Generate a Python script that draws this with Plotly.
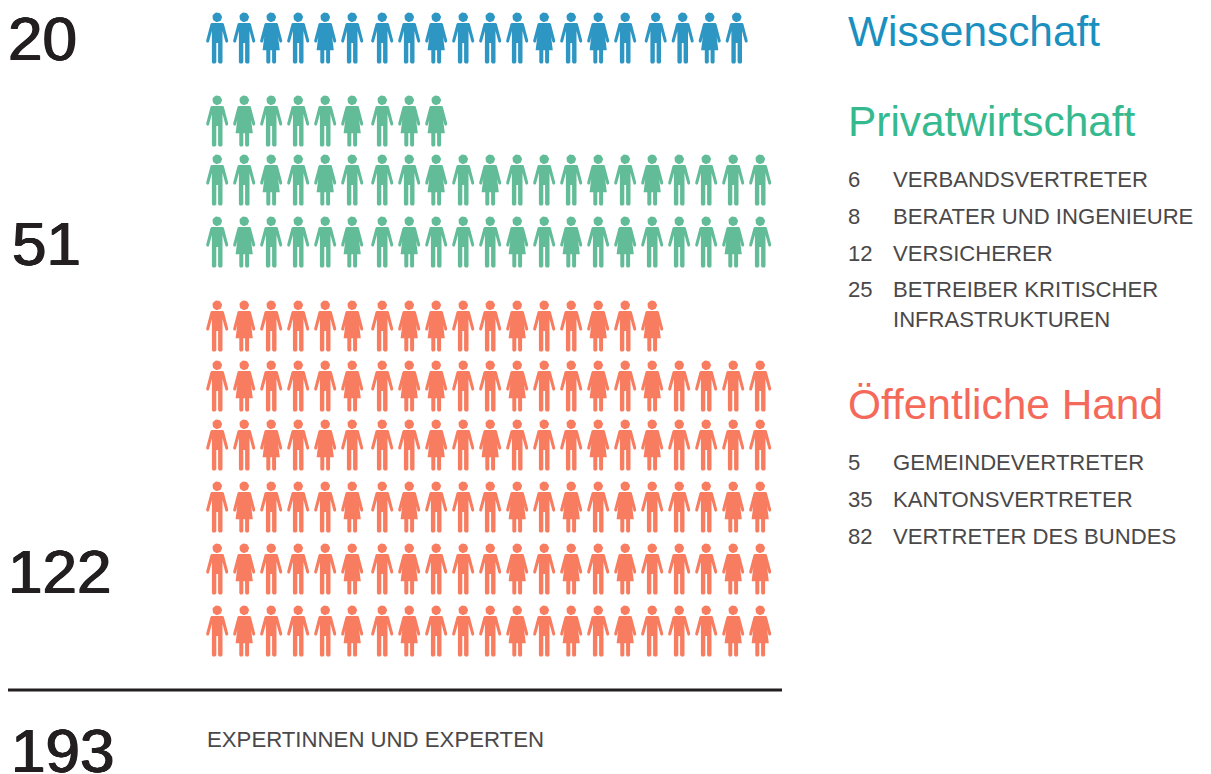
import math
import plotly.graph_objects as go

# --- data -------------------------------------------------------------
groups = ["Wissenschaft", "Privatwirtschaft", "Öffentliche Hand"]
totals = [20, 51, 122]
grand_total = 193
grand_label = "EXPERTINNEN UND EXPERTEN"

wissenschaft_rows = ["mmfmfmmmfmmmfmfmmmfm"]
privat_rows = [
    "mfmmmfmff",
    "mmfmfmmmfmfmmmfmfmmmm",
    "mfmmmfmfmmmfmfmfmmmfm",
]
oeffentlich_rows = [
    "mfmmmfmffmmfmmfmf",
    "mfmmmfmffmmfmmfmfmmmm",
    "mmfmfmmmfmfmmmfmfmmmm",
    "mfmmmfmfmmmfmfmfmmmff",
    "mfmmmfmfmmmfmfmfmmmff",
    "mfmmmfmfmmmfmfmfmmmff",
]

privat_counts = ["6", "8", "12", "25"]
privat_labels = ["VERBANDSVERTRETER", "BERATER UND INGENIEURE", "VERSICHERER",
                 "BETREIBER KRITISCHER", "INFRASTRUKTUREN"]
oeffentlich_counts = ["5", "35", "82"]
oeffentlich_labels = ["GEMEINDEVERTRETER", "KANTONSVERTRETER", "VERTRETER DES BUNDES"]

# --- styling / layout -------------------------------------------------
W, H = 1211, 774
MARK = ["#2E96C3", "#62BC98", "#F77C60"]
HEAD = ["#1A90C0", "#35B98F", "#F4695A"]
INK = "#231F20"
TXT = "#4A4849"
FONT = "Liberation Sans"

ROW_TOP = [[12.5], [95.5, 154.5, 216.5], [300.5, 360.5, 419.5, 481.5, 543.5, 605.5]]
X0, STEP = 217.2, 27.0
GAP_AFTER = 6   # wider gutter after the sixth figure
GAP = 3.0


def head(cx, top):
    r, cy = 4.8, top + 4.7
    pts = [(cx + r * math.cos(2 * math.pi * k / 28), cy + r * math.sin(2 * math.pi * k / 28))
           for k in range(29)]
    return pts


ARM_R = [(5.6, 10.4), (6.6, 11.2), (11.0, 28.0), (10.8, 29.6), (9.2, 30.2), (8.2, 29.2)]
MALE_R = ARM_R + [(5.3, 18.5), (5.3, 49.8), (4.4, 51), (2.0, 51), (0.9, 49.8), (0.9, 30.4)]
FEMALE_R = ARM_R + [(6.9, 24.2), (8.6, 37.7), (4.9, 37.7), (4.9, 49.8), (4.0, 51), (1.9, 51),
                    (0.9, 49.8), (0.9, 37.7)]


def body(cx, top, kind):
    side = MALE_R if kind == "m" else FEMALE_R
    right = [(cx + a, top + b) for a, b in side]
    left = [(cx - a, top + b) for a, b in reversed(side)]
    return right + left + [right[0]]


def figure_x(i, row_of_twenty):
    x = X0 + STEP * i + (GAP if i >= GAP_AFTER else 0)
    if row_of_twenty and i >= 16:
        x += GAP + 0.5
    return x


fig = go.Figure()
for g, rows in enumerate([wissenschaft_rows, privat_rows, oeffentlich_rows]):
    xs, ys = [], []
    for r, row in enumerate(rows):
        top = ROW_TOP[g][r]
        for i, kind in enumerate(row):
            cx = figure_x(i, g == 0)
            for poly in (head(cx, top), body(cx, top, kind)):
                xs += [p[0] for p in poly] + [None]
                ys += [p[1] for p in poly] + [None]
    fig.add_trace(go.Scatter(x=xs, y=ys, mode="lines", fill="toself", fillcolor=MARK[g],
                             line=dict(width=0, color=MARK[g]), hoverinfo="skip",
                             name=groups[g], showlegend=False))


def label(x, y, text, size, color, shadow=None):
    font = dict(size=size, color=color, family=FONT)
    if shadow:
        font["shadow"] = shadow
    fig.add_annotation(x=x, y=y, xref="x", yref="y", text=text, showarrow=False,
                       xanchor="left", yanchor="middle", align="left",
                       xshift=-2, font=font)


# big totals, fattened towards the medium weight of the original
FAT = "0.8px 0 0 #231F20, -0.8px 0 0 #231F20, 0 0.3px 0 #231F20, 0 -0.3px 0 #231F20"
for t, (x, y) in zip(totals, [(8, 38), (12, 243), (8, 571)]):
    label(x, y, str(t), 62, INK, FAT)
label(11, 750, str(grand_total), 62, INK, FAT)
label(207, 739, grand_label, 22.2, TXT)

# headings
for name, color, y in zip(groups, HEAD, [31, 121, 404]):
    label(848, y, name, 42.4, color)

# lists
for t, y in zip(privat_labels, [179, 216, 253, 289, 319]):
    label(893, y, t, 22.1, TXT)
for c, y in zip(privat_counts, [179, 216, 253, 289]):
    label(848, y, c, 22.1, TXT)
for c, t, y in zip(oeffentlich_counts, oeffentlich_labels, [462, 499, 536]):
    label(848, y, c, 22.1, TXT)
    label(893, y, t, 22.1, TXT)

fig.add_shape(type="line", x0=8, x1=782, y0=690, y1=690, xref="x", yref="y",
              line=dict(color=INK, width=3))

fig.update_layout(width=W, height=H, margin=dict(l=0, r=0, t=0, b=0),
                  paper_bgcolor="white", plot_bgcolor="white", showlegend=False,
                  xaxis=dict(range=[0, W], visible=False, fixedrange=True),
                  yaxis=dict(range=[H, 0], visible=False, fixedrange=True))

fig.write_html("out.html", config={"displayModeBar": False},
               post_script="document.body.style.margin='0';document.body.style.overflow='hidden';")
